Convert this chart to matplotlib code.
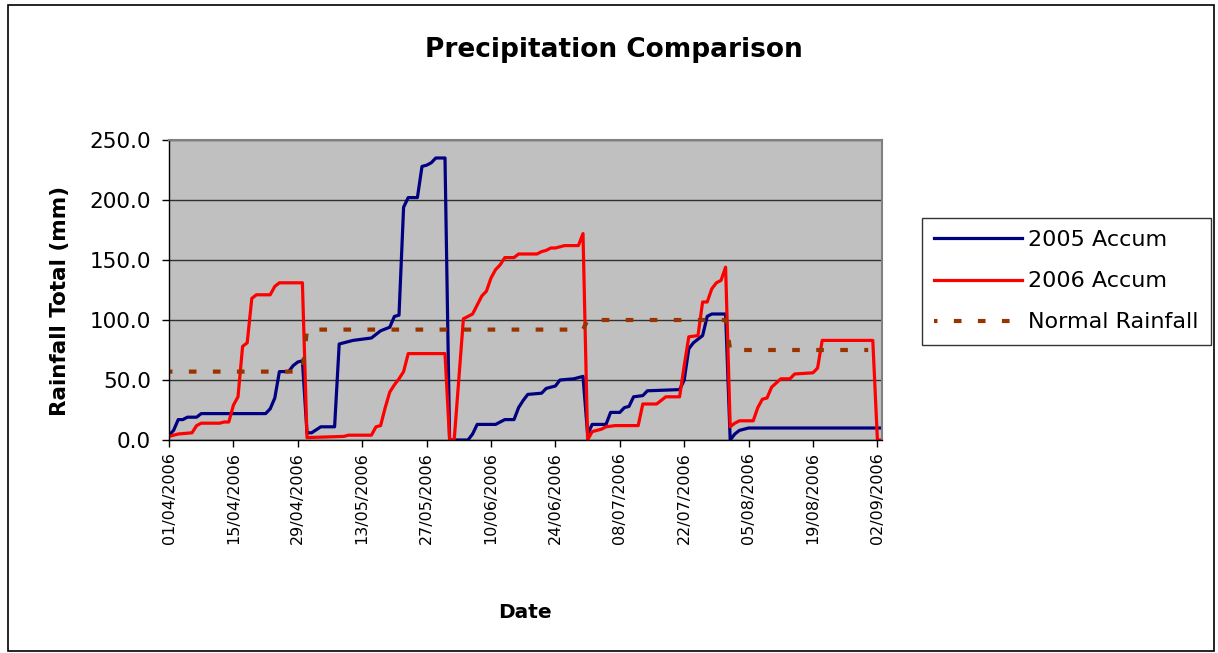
import matplotlib
matplotlib.use("Agg")
import matplotlib.pyplot as plt
import matplotlib.dates as mdates
import pandas as pd
from matplotlib.patches import Rectangle

YEAR = "2006"

dates_2005 = ["01/04", "02/04", "03/04", "04/04", "05/04", "07/04", "08/04", "22/04", "23/04",
              "24/04", "25/04", "27/04", "28/04", "29/04", "30/04",
              "01/05", "02/05", "04/05", "07/05", "08/05", "09/05", "11/05", "13/05", "15/05",
              "17/05", "19/05", "20/05", "21/05", "22/05", "23/05", "25/05", "26/05", "27/05",
              "28/05", "29/05", "31/05",
              "01/06", "05/06", "06/06", "07/06", "11/06", "12/06", "13/06", "15/06", "16/06",
              "17/06", "18/06", "21/06", "22/06", "24/06", "25/06", "28/06", "30/06",
              "01/07", "02/07", "05/07", "06/07", "08/07", "09/07", "10/07", "11/07", "13/07",
              "14/07", "21/07", "22/07", "23/07", "24/07", "25/07", "26/07", "27/07", "28/07",
              "31/07",
              "01/08", "02/08", "03/08", "04/08", "05/08", "03/09"]
accum_2005 = [4, 8, 17, 17, 19, 19, 22, 22, 26,
              35, 57, 57, 62, 65, 66,
              6, 6, 11, 11, 80, 81, 83, 84, 85,
              91, 94, 103, 104, 194, 202, 202, 228, 229,
              231, 235, 235,
              0, 0, 5, 13, 13, 15, 17, 17, 27,
              33, 38, 39, 43, 45, 50, 51, 53,
              5, 13, 13, 23, 23, 27, 28, 36, 37,
              41, 42, 50, 76, 81, 84, 87, 103, 105,
              105,
              0, 5, 8, 9, 10, 10]

dates_2006 = ["01/04", "03/04", "06/04", "07/04", "08/04", "12/04", "13/04", "14/04", "15/04",
              "16/04", "17/04", "18/04", "19/04", "20/04", "23/04", "24/04", "25/04", "30/04",
              "01/05", "09/05", "10/05", "15/05", "16/05", "17/05", "18/05", "19/05", "20/05",
              "21/05", "22/05", "23/05", "31/05",
              "01/06", "02/06", "04/06", "05/06", "06/06", "08/06", "09/06", "10/06", "11/06",
              "12/06", "13/06", "15/06", "16/06", "20/06", "21/06", "22/06", "23/06", "24/06",
              "26/06", "29/06", "30/06",
              "01/07", "02/07", "04/07", "05/07", "07/07", "12/07", "13/07", "16/07", "17/07",
              "18/07", "21/07", "22/07", "23/07", "25/07", "26/07", "27/07", "28/07", "29/07",
              "30/07", "31/07",
              "01/08", "02/08", "03/08", "06/08", "07/08", "08/08", "09/08", "10/08", "12/08",
              "14/08", "15/08", "19/08", "20/08", "21/08", "01/09", "02/09", "03/09"]
accum_2006 = [3, 5, 6, 12, 14, 14, 15, 15, 29,
              36, 78, 81, 118, 121, 121, 128, 131, 131,
              2, 3, 4, 4, 11, 12, 27, 40, 46,
              51, 57, 72, 72,
              0, 0, 101, 103, 105, 120, 124, 135, 142,
              146, 152, 152, 155, 155, 157, 158, 160, 160,
              162, 162, 172,
              0, 7, 9, 11, 12, 12, 30, 30, 33,
              36, 36, 62, 86, 87, 115, 115, 126, 131,
              133, 144,
              11, 14, 16, 16, 27, 34, 35, 44, 51,
              51, 55, 56, 60, 83, 83, 0, 0]

dates_normal = ["01/04", "30/04", "01/05", "30/06", "01/07", "31/07", "01/08", "31/08"]
normal_rain = [57, 57, 92, 92, 100, 100, 75, 75]

tick_dates = ["01/04", "15/04", "29/04", "13/05", "27/05", "10/06", "24/06",
              "08/07", "22/07", "05/08", "19/08", "02/09"]


def to_dates(days):
    return pd.to_datetime([d + "/" + YEAR for d in days], format="%d/%m/%Y")


W, H = 1218, 653
fig = plt.figure(figsize=(W / 100, H / 100), dpi=100)
fig.patch.set_facecolor("white")
fig.patches.append(Rectangle((8 / W, 1 - 651 / H), 1206 / W, 646 / H, transform=fig.transFigure,
                             fill=False, edgecolor="black", linewidth=1.2))

ax = fig.add_axes([169 / W, 1 - 440 / H, 713 / W, 300 / H])
ax.set_facecolor("#C0C0C0")

lw = 2.3
nlw = 3.0
ax.plot(to_dates(dates_2005), accum_2005, color="#000080", linewidth=lw, label="2005 Accum")
ax.plot(to_dates(dates_2006), accum_2006, color="#FF0000", linewidth=lw, label="2006 Accum")
ax.plot(to_dates(dates_normal), normal_rain, color="#993300", linewidth=nlw,
        linestyle=(1, (5.5 / nlw, 11.8 / nlw)), label="Normal Rainfall")

ax.set_ylim(0, 250)
ax.set_yticks(range(0, 251, 50))
ax.yaxis.set_major_formatter(matplotlib.ticker.FormatStrFormatter("%.1f"))
ax.set_xlim(pd.Timestamp("2006-04-01"), pd.Timestamp("2006-09-03"))
ax.set_xticks(to_dates(tick_dates))
ax.xaxis.set_major_formatter(mdates.DateFormatter("%d/%m/%Y"))
ax.grid(axis="y", color="#303030", linewidth=1)
ax.set_axisbelow(True)

for side in ("top", "right"):
    ax.spines[side].set_color("#808080")
    ax.spines[side].set_linewidth(1.5)
for side in ("left", "bottom"):
    ax.spines[side].set_color("black")
    ax.spines[side].set_linewidth(1)

ax.tick_params(axis="y", length=5, width=1, pad=8, labelsize=15.5)
ax.tick_params(axis="x", length=5, width=1, pad=4, labelsize=11.5, labelrotation=90)

fig.text(614 / W, 1 - 50 / H, "Precipitation Comparison", ha="center", va="center",
         fontsize=19, fontweight="bold")
fig.text(60 / W, 1 - 301 / H, "Rainfall Total (mm)", ha="center", va="center",
         rotation=90, fontsize=15.5, fontweight="bold")
fig.text(525 / W, 1 - 613 / H, "Date", ha="center", va="center", fontsize=14.5, fontweight="bold")

leg = fig.legend(loc="upper left", bbox_to_anchor=(922 / W, 1 - 218 / H), borderaxespad=0,
                 fontsize=16, frameon=True, fancybox=False, handlelength=3.95,
                 handletextpad=0.27, labelspacing=0.95, borderpad=0.55)
leg.get_frame().set_edgecolor("black")
leg.get_frame().set_linewidth(1)

fig.savefig("out.png", dpi=100)
